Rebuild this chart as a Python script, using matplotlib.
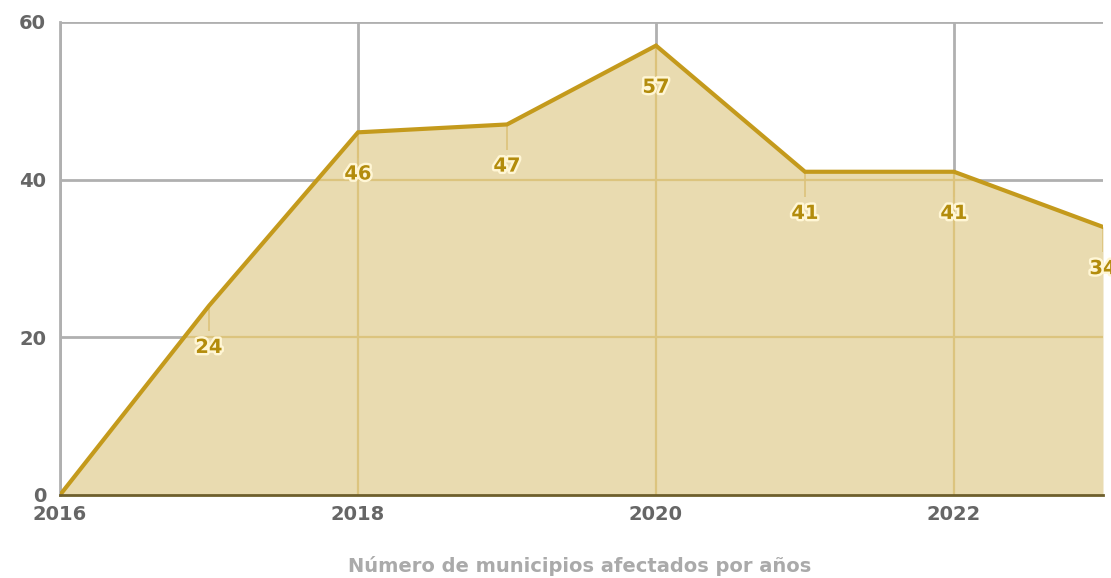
import matplotlib
matplotlib.use("Agg")
import matplotlib.pyplot as plt
import matplotlib.patheffects as pe

years = [2016, 2017, 2018, 2019, 2020, 2021, 2022, 2023]
values = [0, 24, 46, 47, 57, 41, 41, 34]
xticks = [2016, 2018, 2020, 2022]
yticks = [0, 20, 40, 60]
title = "Número de municipios afectados por años"

gold = "#c49a1c"
fill_c = "#e9dbb0"
inner_grid_c = "#dcc47e"
label_c = "#b38c0c"
grid_c = "#b0b0b0"
tick_c = "#666666"

fig = plt.figure(figsize=(11.11, 5.78), dpi=100)
ax = fig.add_axes([0.054, 0.1436, 0.9388, 0.8184])
ax.set_xlim(2016, 2023)
ax.set_ylim(0, 60)

for t in xticks:
    ax.axvline(t, color=grid_c, lw=2, zorder=1)
for t in yticks[1:]:
    ax.axhline(t, color=grid_c, lw=2, zorder=1)

poly = ax.fill_between(years, values, 0, color=fill_c, lw=0, zorder=2)
clip = poly.get_paths()[0]
for t in xticks:
    ln = ax.axvline(t, color=inner_grid_c, lw=1.6, zorder=2.2)
    ln.set_clip_path(clip, ax.transData)
for t in yticks[1:]:
    ln = ax.axhline(t, color=inner_grid_c, lw=1.6, zorder=2.2)
    ln.set_clip_path(clip, ax.transData)

ax.plot(years, values, color=gold, lw=3, zorder=3, solid_joinstyle="miter")

for x, y in zip(years[1:], values[1:]):
    ax.vlines(x, y - 3.2, y, color="#dcc27a", lw=1.2, zorder=2.5)
    ax.annotate(str(y), (x, y), xytext=(0, -30), textcoords="offset points",
                ha="center", va="center", fontsize=14, fontweight="heavy",
                color=label_c, zorder=5, annotation_clip=False,
                path_effects=[pe.withStroke(linewidth=3.5, foreground="#fff6d5")])

ax.set_xticks(xticks)
ax.set_yticks(yticks)
ax.set_xticklabels([str(t) for t in xticks], fontsize=14, fontweight="heavy", color=tick_c)
ax.set_yticklabels([str(t) for t in yticks], fontsize=14, fontweight="heavy", color=tick_c)
ax.tick_params(axis="both", length=0)
ax.tick_params(axis="x", pad=7)
ax.tick_params(axis="y", pad=10)
for lbl in ax.get_yticklabels():
    lbl.set_verticalalignment("center_baseline")

for s in ["top", "right"]:
    ax.spines[s].set_visible(False)
ax.spines["left"].set_color(grid_c)
ax.spines["left"].set_linewidth(2)
ax.spines["bottom"].set_color("#6e5f2c")
ax.spines["bottom"].set_linewidth(2)
ax.spines["bottom"].set_zorder(4)

fig.text(0.522, 0.021, title, ha="center", va="center", fontsize=14,
         fontweight="heavy", color="#aaaaaa")

fig.savefig("out.png", dpi=100)
